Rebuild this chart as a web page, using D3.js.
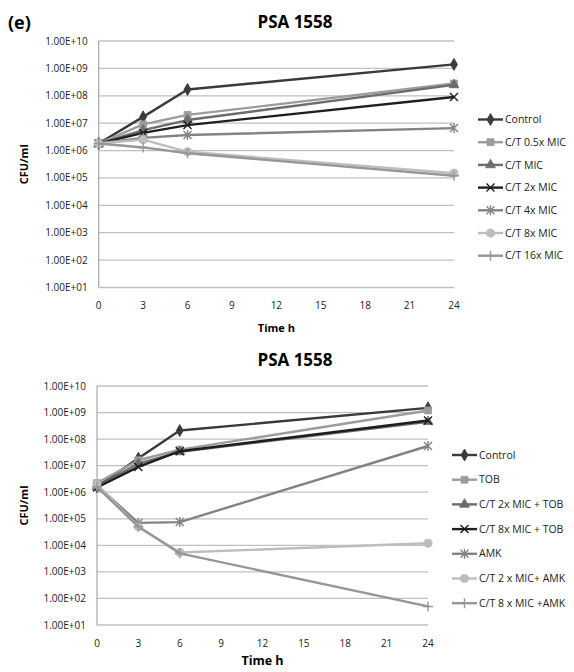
<!DOCTYPE html>
<html>
<head>
<meta charset="utf-8">
<script src="https://cdn.jsdelivr.net/npm/d3@7"></script>
<style>
  body { margin: 0; background: #fff; }
  svg { font-family: "Open Sans", "Liberation Sans", sans-serif; }
  .tick-label { font-size: 10px; fill: #222; }
  .legend-label { font-size: 10.5px; fill: #222; }
</style>
</head>
<body>
<svg id="chart" width="574" height="672"></svg>
<script>
// ---------------------------------------------------------------------------
// Data

const hours = [0, 3, 6, 24];
const xTicks = [0, 3, 6, 9, 12, 15, 18, 21, 24];
const yTicks = [1e1, 1e2, 1e3, 1e4, 1e5, 1e6, 1e7, 1e8, 1e9, 1e10];
const yTickLabels = ['1.00E+01', '1.00E+02', '1.00E+03', '1.00E+04', '1.00E+05',
  '1.00E+06', '1.00E+07', '1.00E+08', '1.00E+09', '1.00E+10'];

// upper panel
const topNames = ['Control', 'C/T 0.5x  MIC', 'C/T MIC', 'C/T 2x MIC',
  'C/T 4x MIC', 'C/T 8x MIC', 'C/T 16x MIC'];
const topControl = [1.8e6, 1.7e7, 1.7e8, 1.4e9];
const topHalfMic = [1.8e6, 9.0e6, 2.0e7, 2.8e8];
const topMic = [1.8e6, 5.6e6, 1.3e7, 2.5e8];
const top2xMic = [1.8e6, 4.4e6, 8.5e6, 9.0e7];
const top4xMic = [1.8e6, 2.9e6, 3.7e6, 6.6e6];
const top8xMic = [1.8e6, 2.5e6, 9.0e5, 1.5e5];
const top16xMic = [1.8e6, 1.3e6, 8.0e5, 1.2e5];

// lower panel
const bottomNames = ['Control', 'TOB', 'C/T 2x MIC + TOB', 'C/T 8x MIC + TOB',
  'AMK', 'C/T 2 x MIC+ AMK', 'C/T 8 x MIC +AMK'];
const botControl = [1.6e6, 1.9e7, 2.1e8, 1.5e9];
const botTob = [2.2e6, 1.6e7, 4.0e7, 1.2e9];
const bot2xTob = [1.6e6, 1.2e7, 3.3e7, 4.5e8];
const bot8xTob = [1.5e6, 9.0e6, 3.5e7, 5.0e8];
const botAmk = [1.8e6, 7.0e4, 7.5e4, 5.5e7];
const bot2xAmk = [2.0e6, 5.0e4, 5.4e3, 1.2e4];
const bot8xAmk = [1.6e6, 5.0e4, 5.0e3, 5.0e1];

// ---------------------------------------------------------------------------
// Styles (by series index)

const colors = ['#3a3a3a', '#9c9c9c', '#6c6c6c', '#1e1e1e', '#838383', '#bdbdbd', '#969696'];
const markers = ['diamond', 'square', 'triangle', 'x', 'asterisk', 'circle', 'plus'];

function markerPath(type) {
  const s = 4;
  switch (type) {
    case 'diamond': return d3.symbol(d3.symbolDiamond, 42)();
    case 'square': return d3.symbol(d3.symbolSquare, 48)();
    case 'triangle': return d3.symbol(d3.symbolTriangle, 42)();
    case 'circle': return d3.symbol(d3.symbolCircle, 52)();
    case 'x': return `M${-s},${-s}L${s},${s}M${-s},${s}L${s},${-s}`;
    case 'asterisk': return `M${-s},${-s}L${s},${s}M${-s},${s}L${s},${-s}M0,${-s - 1}L0,${s + 1}`;
    case 'plus': return `M${-s - 1},0L${s + 1},0M0,${-s - 1}L0,${s + 1}`;
  }
}
const isStroked = t => t === 'x' || t === 'asterisk' || t === 'plus';

// ---------------------------------------------------------------------------
// Drawing

const svg = d3.select('#chart');

svg.append('text')
  .attr('x', 8).attr('y', 29)
  .attr('font-size', 18).attr('font-weight', 'bold')
  .text('(e)');

function drawPanel(cfg) {
  const g = svg.append('g');
  const x = d3.scaleLinear().domain([0, 24]).range([cfg.left, cfg.right]);
  const y = d3.scaleLog().domain([1e1, 1e10]).range([cfg.bottom, cfg.top]);

  // title
  g.append('text')
    .attr('x', 295).attr('y', cfg.titleY)
    .attr('text-anchor', 'middle')
    .attr('font-size', 17).attr('font-weight', 'bold')
    .text('PSA 1558');

  // gridlines
  g.selectAll('line.grid').data(yTicks).enter()
    .append('line')
    .attr('class', 'grid')
    .attr('x1', cfg.left).attr('x2', cfg.right)
    .attr('y1', d => y(d)).attr('y2', d => y(d))
    .attr('stroke', '#c0c0c0').attr('stroke-width', 1.3);

  // left axis line
  g.append('line')
    .attr('x1', cfg.left).attr('x2', cfg.left)
    .attr('y1', y(1e10)).attr('y2', y(1e1))
    .attr('stroke', '#a8a8a8').attr('stroke-width', 1.2);

  // y tick labels
  g.selectAll('text.ylab').data(yTicks).enter()
    .append('text')
    .attr('class', 'tick-label')
    .attr('x', cfg.left - 11)
    .attr('y', d => y(d))
    .attr('dy', '0.35em')
    .attr('text-anchor', 'end')
    .text((d, i) => yTickLabels[i]);

  // x tick labels
  g.selectAll('text.xlab').data(xTicks).enter()
    .append('text')
    .attr('class', 'tick-label')
    .attr('x', d => x(d))
    .attr('y', cfg.bottom + 18)
    .attr('dy', '0.35em')
    .attr('text-anchor', 'middle')
    .text(d => d);

  // axis titles
  g.append('text')
    .attr('transform', `translate(${cfg.yTitleX},${(cfg.top + cfg.bottom) / 2}) rotate(-90)`)
    .attr('text-anchor', 'middle')
    .attr('dy', '0.35em')
    .attr('font-size', 11).attr('font-weight', 'bold')
    .text('CFU/ml');

  g.append('text')
    .attr('x', (cfg.left + cfg.right) / 2)
    .attr('y', cfg.xTitleY)
    .attr('dy', '0.35em')
    .attr('text-anchor', 'middle')
    .attr('font-size', cfg.xTitleSize).attr('font-weight', 'bold')
    .text('Time h');

  // series
  const line = d3.line()
    .x((d, i) => x(hours[i]))
    .y(d => y(d));

  cfg.series.forEach((values, k) => {
    const sg = g.append('g');
    sg.append('path')
      .datum(values)
      .attr('d', line)
      .attr('fill', 'none')
      .attr('stroke', colors[k])
      .attr('stroke-width', 2.4)
      .attr('stroke-linejoin', 'round');

    sg.selectAll('path.mk').data(values).enter()
      .append('path')
      .attr('class', 'mk')
      .attr('transform', (d, i) => `translate(${x(hours[i])},${y(d)})`)
      .attr('d', markerPath(markers[k]))
      .attr('fill', isStroked(markers[k]) ? 'none' : colors[k])
      .attr('stroke', colors[k])
      .attr('stroke-width', isStroked(markers[k]) ? 1.4 : 0.8);
  });

  // legend
  const lg = g.append('g');
  cfg.names.forEach((name, k) => {
    const ly = cfg.legendY + k * cfg.legendStep;
    lg.append('line')
      .attr('x1', cfg.legendX).attr('x2', cfg.legendX + 25)
      .attr('y1', ly).attr('y2', ly)
      .attr('stroke', colors[k]).attr('stroke-width', 2.4);
    lg.append('path')
      .attr('transform', `translate(${cfg.legendX + 12.5},${ly})`)
      .attr('d', markerPath(markers[k]))
      .attr('fill', isStroked(markers[k]) ? 'none' : colors[k])
      .attr('stroke', colors[k])
      .attr('stroke-width', isStroked(markers[k]) ? 1.4 : 0.8);
    lg.append('text')
      .attr('class', 'legend-label')
      .attr('x', cfg.legendX + 27)
      .attr('y', ly)
      .attr('dy', '0.35em')
      .text(name);
  });
}

drawPanel({
  left: 98.7, right: 454, top: 41, bottom: 287.5,
  titleY: 28, yTitleX: 24, xTitleY: 328, xTitleSize: 11,
  legendX: 478, legendY: 119.5, legendStep: 22.7,
  names: topNames,
  series: [topControl, topHalfMic, topMic, top2xMic, top4xMic, top8xMic, top16xMic]
});

drawPanel({
  left: 97, right: 428, top: 386, bottom: 625,
  titleY: 366, yTitleX: 24, xTitleY: 661, xTitleSize: 12.5,
  legendX: 452, legendY: 455, legendStep: 24.7,
  names: bottomNames,
  series: [botControl, botTob, bot2xTob, bot8xTob, botAmk, bot2xAmk, bot8xAmk]
});
</script>
</body>
</html>
